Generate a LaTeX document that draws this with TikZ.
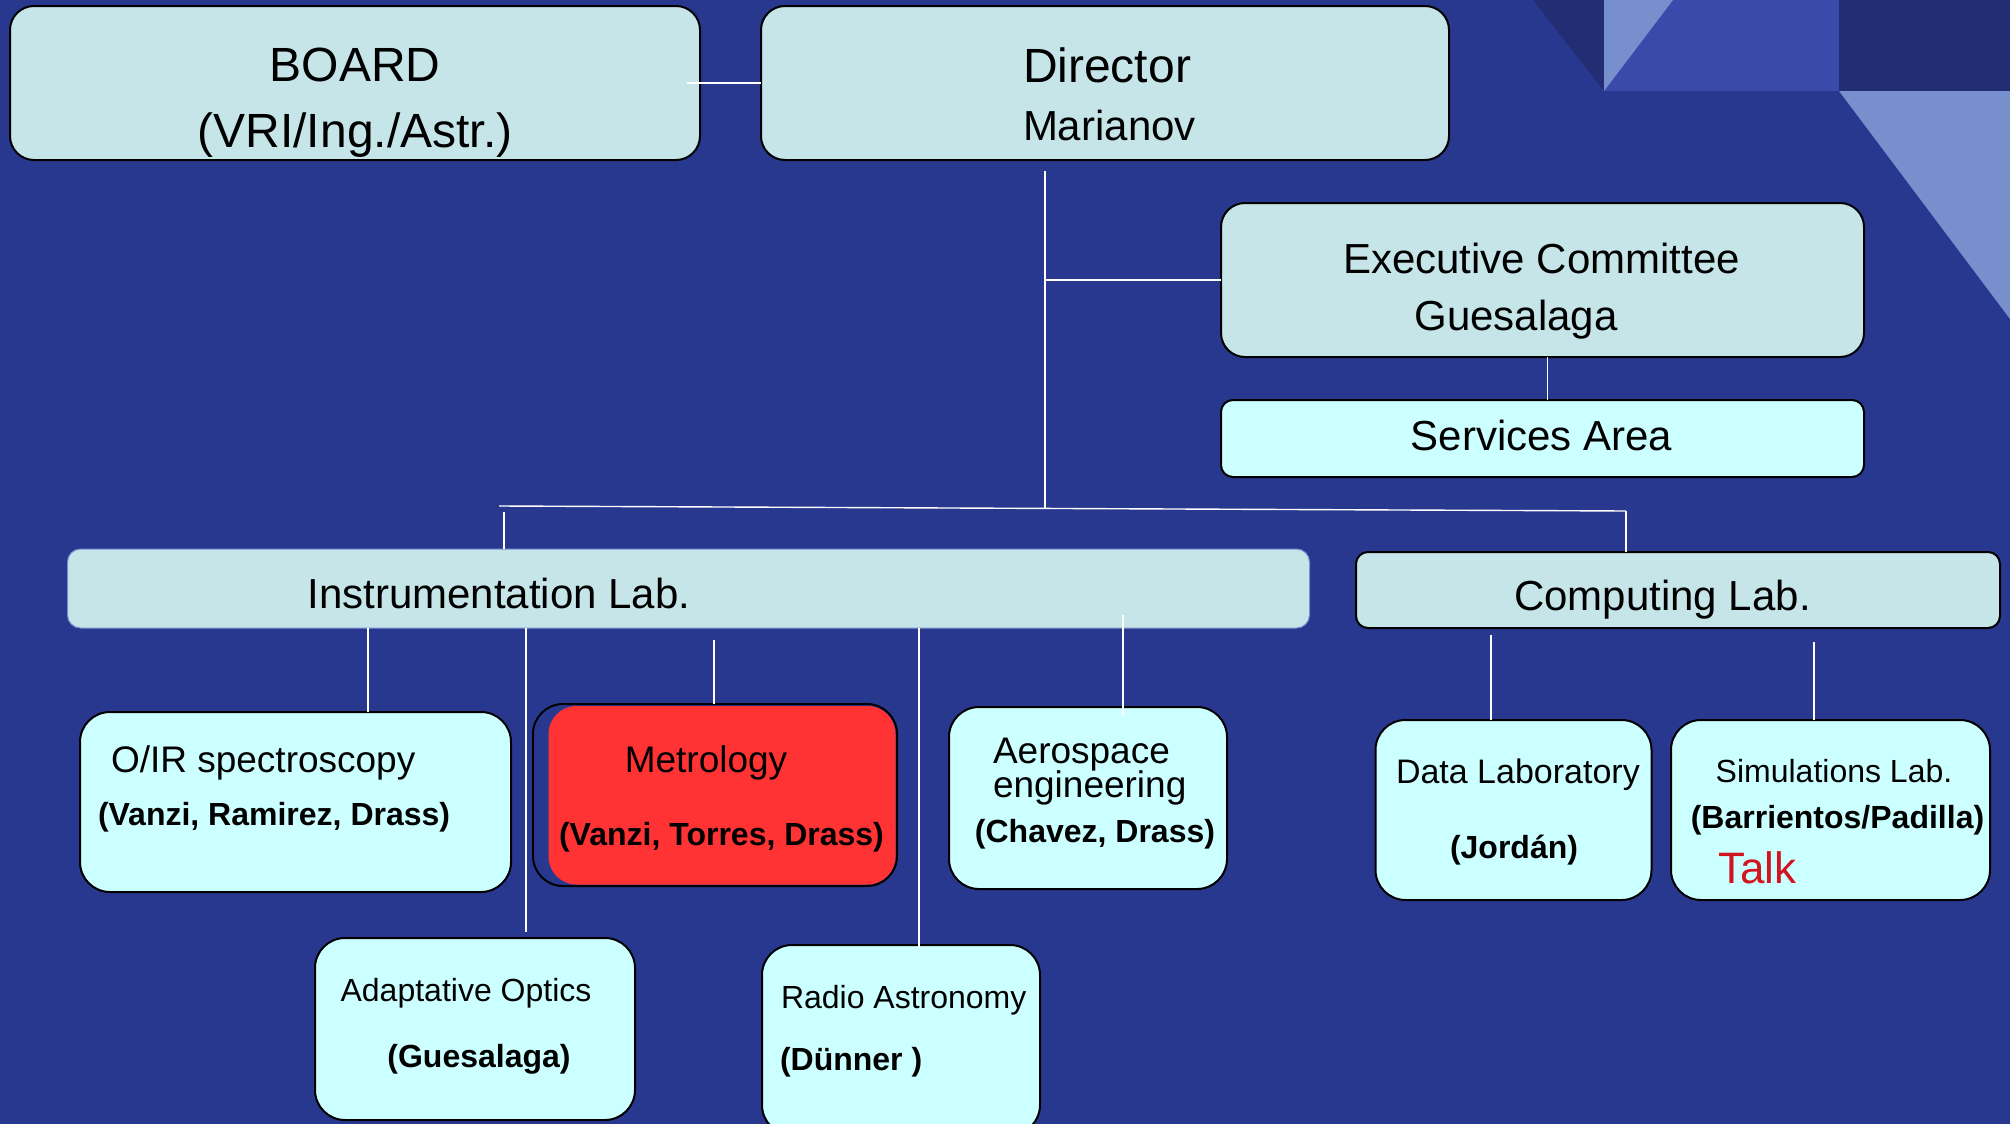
\documentclass[tikz,border=0pt]{standalone}
\usepackage{fontspec}
\setmainfont{Liberation Sans}
\definecolor{bgblue}{RGB}{41,56,143}
\definecolor{decdark}{RGB}{34,45,116}
\definecolor{decmid}{RGB}{58,74,170}
\definecolor{declight}{RGB}{120,143,206}
\definecolor{boxgray}{RGB}{197,229,232}
\definecolor{boxcyan}{RGB}{204,255,255}
\definecolor{metred}{RGB}{255,51,51}
\definecolor{talkred}{RGB}{210,20,30}
\tikzset{
  boxa/.style={draw=black, line width=1pt, fill=boxgray, inner sep=0pt, outer sep=0pt},
  boxb/.style={draw=black, line width=1pt, fill=boxcyan, inner sep=0pt, outer sep=0pt, rounded corners=15pt},
  conn/.style={draw=white, line width=0.7pt},
  lbl/.style={inner sep=0pt, outer sep=0pt, text=black},
  fa/.style={font=\fontsize{24}{28}\selectfont},
  fb/.style={font=\fontsize{21}{25}\selectfont},
  fc/.style={font=\fontsize{18.5}{22}\selectfont},
  fd/.style={font=\fontsize{16}{19}\selectfont},
  fdb/.style={font=\fontsize{16}{19}\selectfont\bfseries},
}
\begin{document}
\begin{tikzpicture}[x=0.5pt,y=-0.5pt]
\useasboundingbox (0,0) rectangle (2010,1124);
\fill[bgblue] (0,0) rectangle (2010,1124);
% decoration top right
\fill[decmid] (1604,0) -- (1839,0) -- (1839,91) -- (1604,91) -- cycle;
\fill[decdark] (1533,0) -- (1604,0) -- (1604,91) -- cycle;
\fill[declight] (1604,0) -- (1673,0) -- (1604,91) -- cycle;
\fill[decdark] (1839,0) rectangle (2010,91);
\fill[declight] (1839,91) -- (2010,91) -- (2010,319) -- cycle;

% top level boxes
\node[boxa, rounded corners=12pt, minimum width=345pt, minimum height=77pt] (board) at (355,83) {};
\node[boxa, rounded corners=12pt, minimum width=344pt, minimum height=77pt] (director) at (1105,83) {};
\node[boxa, rounded corners=12pt, minimum width=321.5pt, minimum height=77pt] (exec) at (1542.5,280) {};
\node[boxb, rounded corners=6pt, minimum width=321.5pt, minimum height=38.5pt] (services) at (1542.5,438.5) {};
\node[boxa, draw=declight, line width=0.5pt, rounded corners=6.5pt, minimum width=621pt, minimum height=39.5pt] (instr) at (688.5,588.5) {};
\node[boxa, rounded corners=6pt, minimum width=322pt, minimum height=38pt] (computing) at (1678,590) {};

% second level boxes
\node[boxb, minimum width=215.5pt, minimum height=90pt] (oir) at (295.5,802) {};
\node[boxb, fill=bgblue, minimum width=182pt, minimum height=91pt] (metro) at (715,795) {};
\fill[metred, rounded corners=14pt] (548.5,706) rectangle (895.5,884.5);
\node[boxb, minimum width=139pt, minimum height=91pt] (aero) at (1088,798) {};
\node[boxb, minimum width=138pt, minimum height=90pt] (data) at (1513.5,810) {};
\node[boxb, minimum width=159.5pt, minimum height=90pt] (sim) at (1830.5,810) {};
\node[boxb, minimum width=160pt, minimum height=91pt] (adapt) at (475,1029) {};
\node[boxb, minimum width=139pt, minimum height=95pt] (radio) at (901,1040) {};

% connectors
\coordinate (dtop) at (1045,171);
\coordinate (busL) at (499,506);
\coordinate (busR) at (1626,511);
\coordinate (busM) at (1045,509);
\draw[conn] ([xshift=-6.5pt]board.east) -- (director.west);
\draw[conn] (dtop) -- (busM);
\draw[conn] (dtop |- exec.west) -- (exec.west);
\draw[conn] ([xshift=2.5pt]exec.south) -- ([xshift=2.5pt]services.north);
\draw[conn] (busL) -- (busR);
\draw[conn] (504,512) -- (instr.north -| 504,0);
\draw[conn] (busR) -- (computing.north -| busR);
\draw[conn] (instr.south -| 368,0) -- (oir.north -| 368,0);
\draw[conn] (instr.south -| 526,0) -- (526,932);
\draw[conn] (714,640) -- (metro.north -| 714,0);
\draw[conn] (instr.south -| 919,0) -- (919,948);
\draw[conn] (1123,615) -- (1123,716);
\draw[conn] (1491,635) -- (data.north -| 1491,0);
\draw[conn] (1814,642) -- (sim.north -| 1814,0);

% labels
\node[lbl, fa, anchor=base] (tboard) at (355,82) {BOARD};
\node[lbl, fa, anchor=base] (tboard2) at (355,147) {(VRI/Ing./Astr.)};
\node[lbl, fa, anchor=base west] (tdir) at (1023,83) {Director};
\node[lbl, fb, anchor=base west] (tdir2) at (1023,140) {Marianov};
\node[lbl, fb, anchor=base] (texec) at (1541.5,273) {Executive Committee};
\node[lbl, fb, anchor=base] (texec2) at (1516,330) {Guesalaga};
\node[lbl, fb, anchor=base] (tserv) at (1541.5,450) {Services Area};
\node[lbl, fb, anchor=base] (tinstr) at (499,608) {Instrumentation Lab.};
\node[lbl, fb, anchor=base] (tcomp) at (1662.5,610) {Computing Lab.};
\node[lbl, fc, anchor=base west] (toir) at (111,772) {O/IR spectroscopy};
\node[lbl, fdb, anchor=base west] (toir2) at (98,825) {(Vanzi, Ramirez, Drass)};
\node[lbl, fc, anchor=base] (tmet) at (706,772) {Metrology};
\node[lbl, fdb, anchor=base] (tmet2) at (721.5,845) {(Vanzi, Torres, Drass)};
\node[lbl, fc, anchor=base west] (taero) at (993,763) {Aerospace};
\node[lbl, fc, anchor=base west] (taero2) at (993,797) {engineering};
\node[lbl, fdb, anchor=base] (taero3) at (1095,842) {(Chavez, Drass)};
\node[lbl, font=\fontsize{17}{20}\selectfont, anchor=base west] (tdata) at (1396,783) {Data Laboratory};
\node[lbl, fdb, anchor=base] (tdata2) at (1514,858) {(Jordán)};
\node[lbl, fd, anchor=base] (tsim) at (1834,782) {Simulations Lab.};
\node[lbl, fdb, anchor=base] (tsim2) at (1837.5,828) {(Barrientos/Padilla)};
\node[lbl, font=\fontsize{22}{26}\selectfont, text=talkred, anchor=base west] (ttalk) at (1718,883) {Talk};
\node[lbl, fd, anchor=base] (tadapt) at (466,1001) {Adaptative Optics};
\node[lbl, fdb, anchor=base] (tadapt2) at (479,1067) {(Guesalaga)};
\node[lbl, fd, anchor=base west] (tradio) at (781,1008) {Radio Astronomy};
\node[lbl, fdb, anchor=base west] (tradio2) at (780,1070) {(Dünner )};
\end{tikzpicture}
\end{document}
